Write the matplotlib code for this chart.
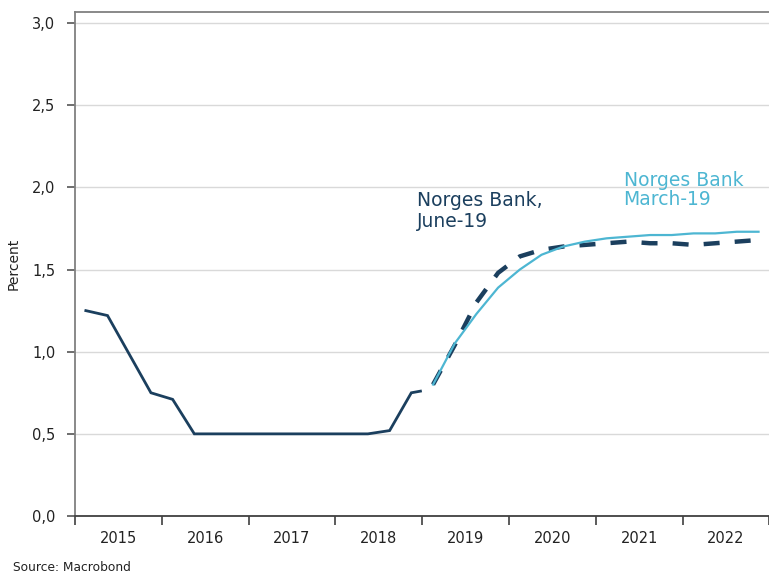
import numpy as np
import matplotlib
matplotlib.use("Agg")
import matplotlib.pyplot as plt

plt.rcParams['font.family'] = ['DejaVu Sans']

# historic policy rate (year fraction, percent)
hist_x = [2015.125, 2015.375, 2015.875, 2016.125, 2016.375, 2017.0, 2018.0,
          2018.375, 2018.625, 2018.875, 2018.98]
hist_y = [1.25, 1.22, 0.75, 0.71, 0.50, 0.50, 0.50, 0.50, 0.52, 0.75, 0.76]

# forecasts, quarterly mid points
fc_x = [2019.125, 2019.375, 2019.625, 2019.875, 2020.125, 2020.375, 2020.625,
        2020.875, 2021.125, 2021.375, 2021.625, 2021.875, 2022.125, 2022.375,
        2022.625, 2022.875]
march19 = [0.80, 1.05, 1.23, 1.39, 1.50, 1.59, 1.64, 1.67, 1.69, 1.70, 1.71,
           1.71, 1.72, 1.72, 1.73, 1.73]
june19 = [0.80, 1.04, 1.30, 1.48, 1.58, 1.62, 1.64, 1.65, 1.66, 1.67, 1.66,
          1.66, 1.65, 1.66, 1.67, 1.68]

years = [2015, 2016, 2017, 2018, 2019, 2020, 2021, 2022]
yticks = [0.0, 0.5, 1.0, 1.5, 2.0, 2.5, 3.0]

dark = '#1b3f5e'
light = '#4db6d2'

fig = plt.figure(figsize=(7.69, 5.74), dpi=100)
ax = fig.add_axes([0.0975, 0.101, 0.903, 0.878])

for v in yticks:
    ax.axhline(v, color='#d9d9d9', lw=1, zorder=0)

ax.plot(hist_x, hist_y, color=dark, lw=2.0, solid_joinstyle='miter')
ax.plot(fc_x, june19, color=dark, lw=3.2, linestyle=(0, (3.6, 3.4)))
ax.plot(fc_x, march19, color=light, lw=1.6)

# va='baseline' lines up the last line of the text
ax.text(2018.94, 1.76, 'Norges Bank,\nJune-19', color=dark, fontsize=13.5,
        va='baseline', ha='left', linespacing=1.15)
ax.text(2021.32, 1.89, 'Norges Bank\nMarch-19', color=light, fontsize=13.5,
        va='baseline', ha='left', linespacing=1.0)

ax.set_xlim(2015, 2022.92)
ax.set_ylim(0, 3.067)

ax.set_xticks(years + [2023])
ax.set_xticklabels([])
ax.set_xticks([y + 0.5 for y in years], minor=True)
ax.set_xticklabels([str(y) for y in years], minor=True, fontsize=10.5)
ax.tick_params(axis='x', which='major', direction='out', length=6.5, width=1.2,
               color='#404040')
ax.tick_params(axis='x', which='minor', length=0, pad=11, labelcolor='#222222')

ax.set_yticks(yticks)
ax.set_yticklabels([('%.1f' % v).replace('.', ',') for v in yticks], fontsize=10.5)
ax.tick_params(axis='y', direction='out', length=6, width=1.2, color='#555555',
               labelcolor='#222222', pad=8)

ax.spines['right'].set_visible(False)
ax.spines['top'].set_color('#808080')
ax.spines['left'].set_color('#808080')
ax.spines['bottom'].set_color('#404040')
for s in ['top', 'left', 'bottom']:
    ax.spines[s].set_linewidth(1.3)

ax.set_ylabel('Percent', fontsize=10, labelpad=8, color='#222222')

fig.text(0.017, 0.005, 'Source: Macrobond', fontsize=8.8, color='#222222')

fig.savefig('out.png', dpi=100)
